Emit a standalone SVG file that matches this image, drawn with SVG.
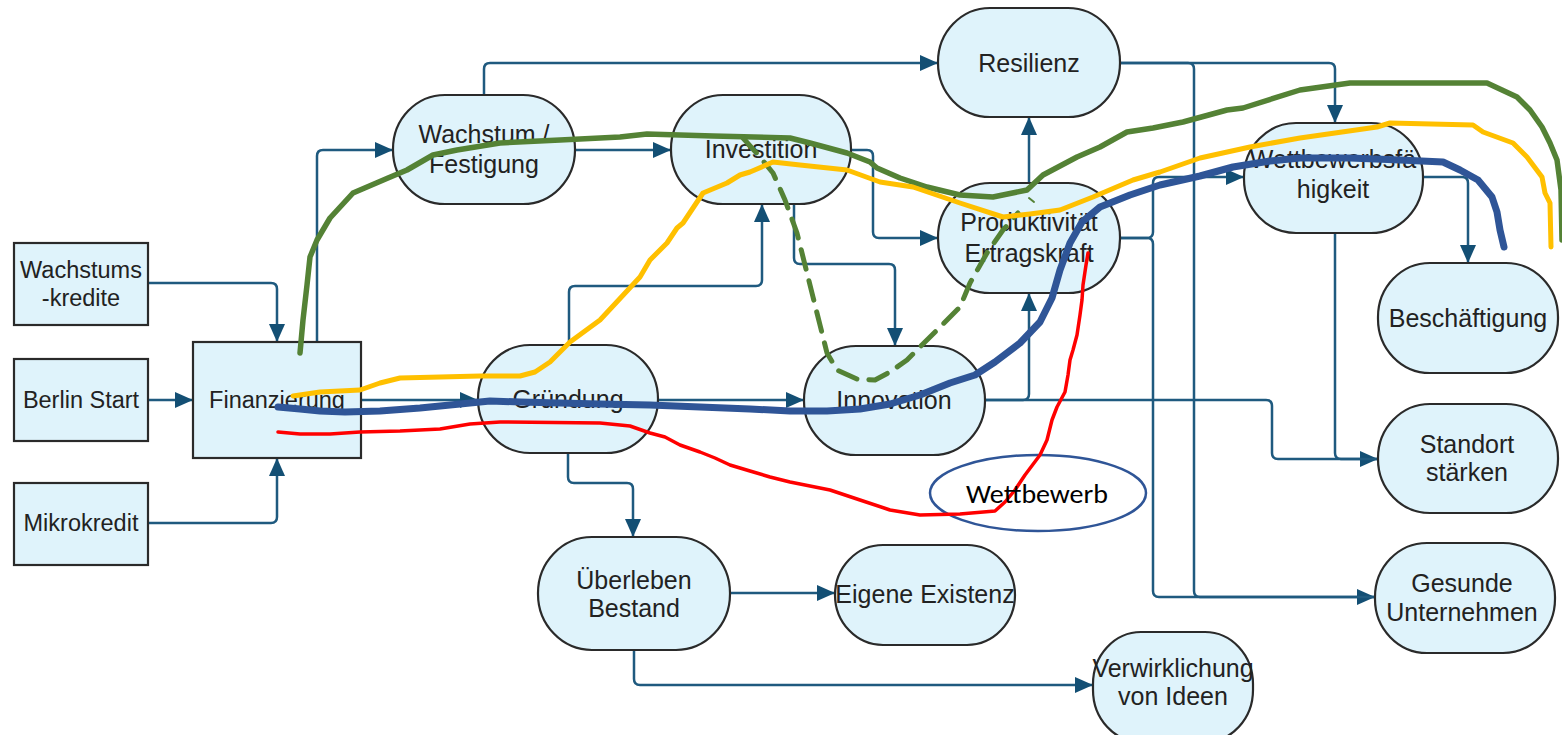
<svg xmlns="http://www.w3.org/2000/svg" width="1562" height="735" viewBox="0 0 1562 735">
<style>
.box{fill:#dff3fb;stroke:#2a2a2a;stroke-width:2.2}
.t{font-family:"Liberation Sans",Arial,sans-serif;font-size:25px;fill:#222;text-anchor:middle}
.ts{font-family:"Liberation Sans",Arial,sans-serif;font-size:23.5px;fill:#222;text-anchor:middle}
.c{fill:none;stroke:#1f5a7f;stroke-width:2.5}
.a{marker-end:url(#ar)}
.hand{fill:none;stroke-linecap:round;stroke-linejoin:round}
</style>
<defs>
<marker id="ar" markerUnits="userSpaceOnUse" markerWidth="18" markerHeight="16" viewBox="0 0 18 16" refX="18" refY="8" orient="auto">
<path d="M0,0 L18,8 L0,16 z" fill="#134f74"/>
</marker>
</defs>
<rect width="1562" height="735" fill="#fff"/>

<g id="connectors">
<path class="c a" d="M148,283 H271 Q277,283 277,289 V342"/>
<path class="c a" d="M148,400 H193"/>
<path class="c a" d="M148,523 H271 Q277,523 277,517 V458"/>
<path class="c a" d="M317,342 V156 Q317,150 323,150 H393"/>
<path class="c a" d="M361,400 H478"/>
<path class="c a" d="M575,150 H671"/>
<path class="c a" d="M484,95 V69 Q484,63 490,63 H938"/>
<path class="c a" d="M851,150 H867 Q873,150 873,156 V232 Q873,238 879,238 H938"/>
<path class="c a" d="M794,204 V258 Q794,264 800,264 H889 Q895,264 895,270 V346"/>
<path class="c a" d="M569,345 V292 Q569,286 575,286 H756 Q762,286 762,280 V204"/>
<path class="c a" d="M658,400 H804"/>
<path class="c a" d="M568,453 V477 Q568,483 574,483 H627 Q633,483 633,489 V537"/>
<path class="c a" d="M985,400 H1023 Q1029,400 1029,394 V293"/>
<path class="c a" d="M985,400 H1266 Q1272,400 1272,406 V453 Q1272,459 1278,459 H1378"/>
<path class="c a" d="M1029,183 V117"/>
<path class="c a" d="M1120,238 H1147 Q1153,238 1153,232 V183 Q1153,177 1159,177 H1244"/>
<path class="c a" d="M1120,238 H1147 Q1153,238 1153,244 V591 Q1153,597 1159,597 H1375"/>
<path class="c a" d="M1120,63 H1329 Q1335,63 1335,69 V123"/>
<path class="c" d="M1120,63 H1188 Q1194,63 1194,69 V591 Q1194,597 1200,597 H1375"/>
<path class="c a" d="M1423,177 H1462 Q1468,177 1468,183 V263"/>
<path class="c" d="M1335,233 V453 Q1335,459 1341,459 H1378"/>
<path class="c a" d="M730,593 H835"/>
<path class="c a" d="M634,650 V679 Q634,685 640,685 H1093"/>
</g>

<g id="n-wachstumskredite"><rect class="box" x="14" y="243" width="134" height="82"/><text class="ts" x="81" y="278">Wachstums</text><text class="ts" x="81" y="306">-kredite</text></g>
<g id="n-berlinstart"><rect class="box" x="14" y="359" width="134" height="82"/><text class="ts" x="81" y="408">Berlin Start</text></g>
<g id="n-mikrokredit"><rect class="box" x="14" y="483" width="134" height="82"/><text class="ts" x="81" y="531">Mikrokredit</text></g>
<g id="n-finanzierung"><rect class="box" x="193" y="342" width="168" height="116"/><text class="ts" x="277" y="408">Finanzierung</text></g>
<g id="n-wachstum"><rect class="box" x="393" y="95" width="182" height="109" rx="52" ry="54"/><text class="t" x="484" y="143">Wachstum /</text><text class="t" x="484" y="173">Festigung</text></g>
<g id="n-investition"><rect class="box" x="671" y="95" width="180" height="109" rx="52" ry="54"/><text class="t" x="761" y="158">Investition</text></g>
<g id="n-resilienz"><rect class="box" x="938" y="8" width="182" height="109" rx="52" ry="54"/><text class="t" x="1029" y="72">Resilienz</text></g>
<g id="n-produktivitaet"><rect class="box" x="938" y="183" width="182" height="110" rx="52" ry="54"/><text class="t" x="1029" y="231">Produktivität</text><text class="t" x="1029" y="262">Ertragskraft</text></g>
<g id="n-wettbewerbsfaehigkeit"><rect class="box" x="1244" y="123" width="179" height="110" rx="52" ry="54"/><text class="t" x="1333" y="168">Wettbewerbsfä</text><text class="t" x="1333" y="198">higkeit</text></g>
<g id="n-beschaeftigung"><rect class="box" x="1378" y="263" width="180" height="110" rx="52" ry="54"/><text class="t" x="1468" y="327">Beschäftigung</text></g>
<g id="n-standort"><rect class="box" x="1378" y="404" width="180" height="109" rx="52" ry="54"/><text class="t" x="1467" y="453">Standort</text><text class="t" x="1467" y="481">stärken</text></g>
<g id="n-gesunde"><rect class="box" x="1375" y="543" width="180" height="110" rx="52" ry="54"/><text class="t" x="1462" y="592">Gesunde</text><text class="t" x="1462" y="621">Unternehmen</text></g>
<g id="n-gruendung"><rect class="box" x="478" y="345" width="180" height="108" rx="52" ry="54"/><text class="t" x="568" y="408">Gründung</text></g>
<g id="n-innovation"><rect class="box" x="804" y="346" width="181" height="109" rx="52" ry="54"/><text class="t" x="894" y="409">Innovation</text></g>
<g id="n-ueberleben"><rect class="box" x="538" y="537" width="192" height="113" rx="54" ry="56"/><text class="t" x="634" y="589">Überleben</text><text class="t" x="634" y="617">Bestand</text></g>
<g id="n-eigene"><rect class="box" x="835" y="545" width="180" height="100" rx="48" ry="50"/><text class="t" x="925" y="603">Eigene Existenz</text></g>
<g id="n-verwirklichung"><rect class="box" x="1093" y="632" width="160" height="110" rx="48" ry="52"/><text class="t" x="1173" y="677" font-size="24">Verwirklichung</text><text class="t" x="1173" y="705">von Ideen</text></g>

<g id="annotations">
<polyline class="hand" stroke="#548235" stroke-width="5.5" points="300,353 303,320 307,285 310,257 317,240 330,218 353,193 388,178 407,170 433,155 457,150 500,143 560,140 620,137 647,134 713,136 790,138 810,143 847,153 870,162 877,168 900,178 927,187 960,195 993,197 1027,190 1043,175 1077,157 1100,147 1127,132 1153,128 1183,122 1227,110 1243,108 1300,90 1350,83 1487,83 1517,97 1530,110 1542,127 1550,143 1557,160 1561,190 1562,240"/>
<polyline class="hand" stroke="#548235" stroke-width="5" stroke-linecap="butt" stroke-dasharray="20 12" points="743,138 760,157 773,173 785,200 797,233 805,265 813,297 820,325 827,353 837,370 857,379 875,380 890,372 907,360 937,330 960,307 970,283 987,253 1003,230 1018,213"/>
<path class="hand" stroke="#548235" stroke-width="2" d="M1029,198 L1034,202"/>
<polyline class="hand" stroke="#ffc000" stroke-width="5" points="293,396 320,392 360,390 380,383 400,378 440,377 480,376 520,376 535,372 550,362 570,342 600,320 640,277 650,260 667,243 677,228 683,223 703,193 727,183 740,175 750,172 773,162 800,165 847,170 880,182 913,187 960,203 1003,217 1030,214 1060,210 1093,197 1133,180 1160,172 1200,158 1250,147 1300,138 1377,127 1390,123 1473,125 1483,132 1513,143 1527,157 1542,177 1545,193 1550,203 1551,247"/>
<polyline class="hand" stroke="#2f5597" stroke-width="7" points="278,407 300,409 320,411 345,412 380,411 420,408 460,404 490,401 520,402 560,403 600,404 650,405 700,407 750,409 790,411 827,411 860,409 890,404 920,395 950,383 975,375 995,362 1020,343 1040,322 1052,298 1060,270 1070,243 1082,222 1100,207 1130,195 1160,185 1200,176 1233,167 1270,161 1300,158 1350,158 1400,160 1443,162 1460,170 1478,180 1492,197 1497,212 1500,230 1504,247"/>
<ellipse cx="1038" cy="493" rx="108" ry="38" fill="none" stroke="#2f5597" stroke-width="2.5"/>
<polyline class="hand" stroke="#ff0000" stroke-width="3.5" points="278,432 300,434 330,434 360,432 400,431 440,429 470,424 500,422 600,423 630,426 650,433 665,437 680,445 700,452 715,458 730,465 750,471 770,477 790,482 830,490 860,500 890,510 920,515 960,514 995,511 1005,502 1015,490 1025,475 1040,455 1047,440 1052,420 1057,407 1065,392 1068,375 1070,360 1073,350 1077,335 1080,315 1082,300 1083,285 1086,265 1088,253"/>
<text x="1037" y="503" font-family="Carlito,'Liberation Sans',Arial,sans-serif" font-size="26" fill="#000" text-anchor="middle" textLength="142" lengthAdjust="spacingAndGlyphs">Wettbewerb</text>
</g>
</svg>
